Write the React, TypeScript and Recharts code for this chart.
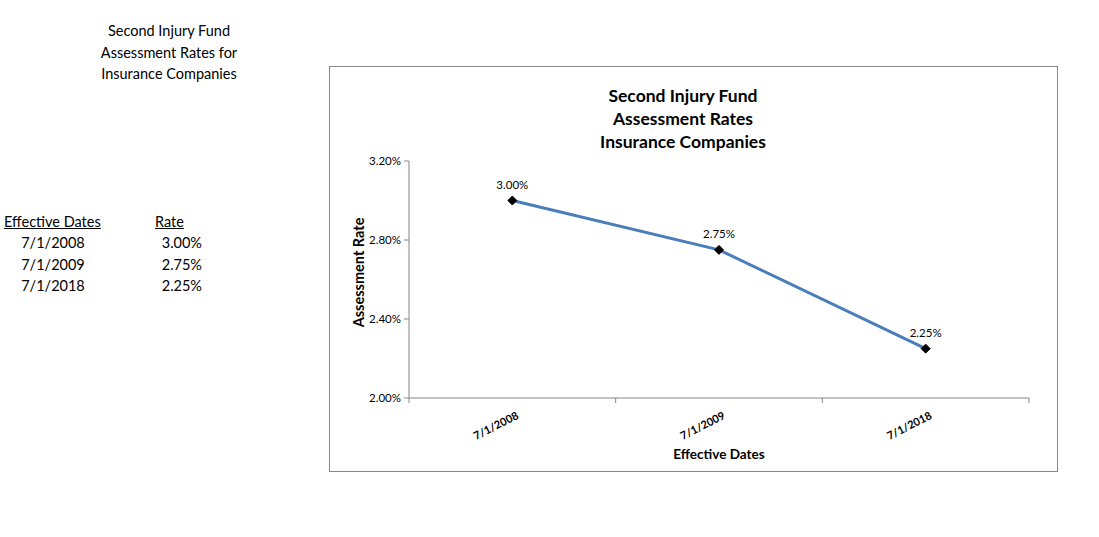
import React from 'react';
import { LineChart, Line, XAxis, YAxis, LabelList, Label } from 'recharts';

const categories = ['7/1/2008', '7/1/2009', '7/1/2018'];
const rates = [0.03, 0.0275, 0.0225];
const yTicks = [0.02, 0.024, 0.028, 0.032];
const chartTitle = ['Second Injury Fund', 'Assessment Rates', 'Insurance Companies'];
const sideTitle = ['Second Injury Fund', 'Assessment Rates for', 'Insurance Companies'];

const data = categories.map((c, i) => ({ date: c, rate: rates[i] }));

const FONT = 'Lato, "Open Sans", sans-serif';
const AXIS = '#868686';

const pct = (v: number) => (v * 100).toFixed(2) + '%';

const Diamond = (props: any) => {
  const { cx, cy } = props;
  if (cx == null || cy == null) return null;
  const r = 4.5;
  return (
    <path
      d={`M${cx},${cy - r} L${cx + r},${cy} L${cx},${cy + r} L${cx - r},${cy} Z`}
      fill="#000"
      stroke="#000"
    />
  );
};

const XTick = (props: any) => {
  const { x, y, payload, index, visibleTicksCount } = props;
  const half = payload && payload.offset ? payload.offset : 0;
  const axisY = y - 8;
  const tx = x + 7;
  const ty = y + 12;
  return (
    <g>
      <line x1={x - half} x2={x - half} y1={axisY} y2={axisY + 5} stroke={AXIS} />
      {index === visibleTicksCount - 1 ? (
        <line x1={x + half} x2={x + half} y1={axisY} y2={axisY + 5} stroke={AXIS} />
      ) : null}
      <text
        x={tx}
        y={ty}
        transform={`rotate(-27, ${tx}, ${ty})`}
        textAnchor="end"
        fontSize={11}
        fontWeight="bold"
        fontFamily={FONT}
        fill="#000"
      >
        {payload.value}
      </text>
    </g>
  );
};

const YTitle = (props: any) => {
  const vb = props.viewBox || {};
  const cx = (vb.x || 0) + 28;
  const cy = (vb.y || 0) + (vb.height || 0) / 2 - 7;
  return (
    <text
      x={cx}
      y={cy}
      transform={`rotate(-90, ${cx}, ${cy})`}
      textAnchor="middle"
      dominantBaseline="central"
      fontSize={14.5}
      fontWeight="bold"
      fontFamily={FONT}
      fill="#000"
    >
      Assessment Rate
    </text>
  );
};

export default function App() {
  const side = { position: 'absolute' as const, fontSize: 14.5, lineHeight: '21.5px', color: '#000' };
  return (
    <div style={{ position: 'absolute', left: 0, top: 0, width: 1099, height: 537, background: '#fff', fontFamily: FONT }}>
      <div style={{ ...side, left: 59, top: 20, width: 220, textAlign: 'center' }}>
        {sideTitle.map((t) => (
          <div key={t}>{t}</div>
        ))}
      </div>
      <div style={{ ...side, left: 4, top: 211, textDecoration: 'underline' }}>Effective Dates</div>
      <div style={{ ...side, left: 155, top: 211, textDecoration: 'underline' }}>Rate</div>
      {categories.map((c, i) => (
        <React.Fragment key={c}>
          <div style={{ ...side, left: 0, width: 106, textAlign: 'center', top: 232 + i * 21.5 }}>{c}</div>
          <div style={{ ...side, left: 140, width: 62, textAlign: 'right', top: 232 + i * 21.5 }}>{pct(rates[i])}</div>
        </React.Fragment>
      ))}

      <div style={{ position: 'absolute', left: 329, top: 66, width: 727, height: 404, border: '1px solid #888', boxSizing: 'content-box' }}>
        <div style={{ position: 'absolute', left: 0, top: 17, width: 706, textAlign: 'center', fontSize: 17.5, fontWeight: 'bold', lineHeight: '23px' }}>
          {chartTitle.map((t) => (
            <div key={t}>{t}</div>
          ))}
        </div>
        <LineChart width={727} height={404} data={data} margin={{ top: 94, right: 28, left: 0, bottom: 13 }}>
          <XAxis
            dataKey="date"
            scale="band"
            tickLine={false}
            tickSize={5}
            tickMargin={3}
            axisLine={{ stroke: AXIS }}
            tick={<XTick />}
            interval={0}
            height={60}
            label={{ value: 'Effective Dates', position: 'insideBottom', offset: -1, fontSize: 13.5, fontWeight: 'bold', fill: '#000', fontFamily: FONT }}
          />
          <YAxis
            domain={[0.02, 0.032]}
            ticks={yTicks}
            tickFormatter={pct}
            width={79}
            tickSize={5}
            tickMargin={3}
            tick={{ fontSize: 11.5, fill: '#000', fontFamily: FONT }}
            tickLine={{ stroke: AXIS }}
            axisLine={{ stroke: AXIS }}
          >
            <Label content={<YTitle />} position="insideLeft" />
          </YAxis>
          <Line
            dataKey="rate"
            stroke="#4A7EBB"
            strokeWidth={3}
            dot={<Diamond />}
            activeDot={false}
            isAnimationActive={false}
          >
            <LabelList dataKey="rate" position="top" offset={12} formatter={(v: any) => pct(Number(v))} fontSize={11.5} fill="#000" fontFamily={FONT} />
          </Line>
        </LineChart>
      </div>
    </div>
  );
}
